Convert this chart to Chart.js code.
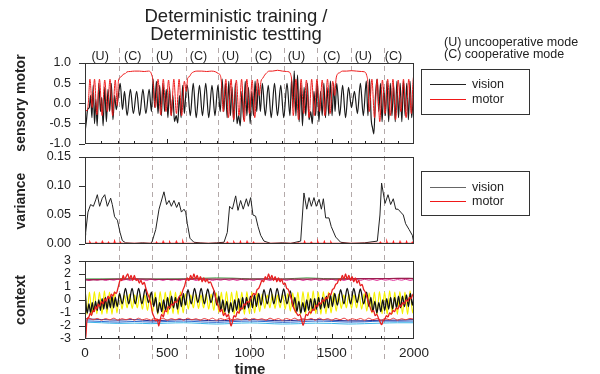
<!DOCTYPE html>
<html><head><meta charset="utf-8">
<script src="https://cdn.jsdelivr.net/npm/chart.js@4.4.0/dist/chart.umd.min.js"></script>
<style>
body{margin:0;background:#fff;width:600px;height:374px;overflow:hidden;position:relative;font-family:"Liberation Sans",Arial,sans-serif;color:#222}
canvas{position:absolute;left:0;z-index:1}
.t{position:absolute;white-space:nowrap;z-index:5}
.rot{position:absolute;white-space:nowrap;transform:translate(-50%,-50%) rotate(-90deg);font-weight:bold;font-size:14px;z-index:5}
.lg{position:absolute;border:1px solid #333;background:#fff;z-index:5}
.ln{position:absolute;height:1px;z-index:6}
.lt{position:absolute;font-size:12.5px;line-height:13px;transform:translateY(-50%);z-index:6}
.ml{position:absolute;font-size:12.5px;transform:translate(-50%,-50%);z-index:5}
</style></head><body>
<div class="t" style="left:126px;top:7px;width:220px;text-align:center;font-size:18.5px;line-height:18px">Deterministic training /<br>Deterministic testting</div>
<div class="t" style="left:444px;top:36px;font-size:12.5px;line-height:12px">(U) uncooperative mode<br>(C) cooperative mode</div>
<div class="rot" style="left:20px;top:103px">sensory motor</div>
<div class="rot" style="left:20px;top:201px">variance</div>
<div class="rot" style="left:20px;top:300px">context</div>
<div class="t" style="left:250px;top:362px;transform:translateX(-50%);font-weight:bold;font-size:15px;line-height:14px">time</div>
<div class="lg" style="left:421px;top:69px;width:107px;height:44px"></div>
<div class="ln" style="left:430px;top:84px;width:36px;background:#222"></div>
<div class="lt" style="left:472px;top:84px">vision</div>
<div class="ln" style="left:430px;top:99px;width:36px;background:#f01818"></div>
<div class="lt" style="left:472px;top:99px">motor</div>
<div class="lg" style="left:421px;top:171px;width:107px;height:43px"></div>
<div class="ln" style="left:430px;top:187px;width:36px;background:#666"></div>
<div class="lt" style="left:472px;top:187px">vision</div>
<div class="ln" style="left:430px;top:201px;width:36px;background:#f01818"></div>
<div class="lt" style="left:472px;top:201px">motor</div>
<div id="modes"></div>
<canvas id="c1" width="600" height="125" style="top:35px"></canvas>
<canvas id="c2" width="600" height="125" style="top:140px"></canvas>
<canvas id="c3" width="600" height="139" style="top:235px"></canvas>
<script>
// ---------- shared ----------
const boundaries = [205, 408, 612, 808, 1010, 1208, 1410, 1614, 1815];
const modeLabels = ['(U)','(C)','(U)','(C)','(U)','(C)','(U)','(C)','(U)','(C)'];
const modeTimes = [92, 290, 484, 690, 884, 1085, 1285, 1500, 1692, 1875];
const xTickLabels = [0, 500, 1000, 1500, 2000];

// ---------- panel 1: sensory motor ----------
const motorSM = [[0,-0.15],[12,-0.18],[20,0.0],[30,0.6],[44,-0.1],[58,0.6],[72,-0.28],[88,0.6],[104,-0.3],[120,0.58],[136,-0.2],[152,0.6],[168,-0.3],[184,0.58],[196,-0.05],[203,0.55],
[208,0.62],[215,0.65],[225,0.68],[232,0.72],[245,0.74],[255,0.78],[275,0.79],[300,0.8],[330,0.8],[360,0.79],[385,0.8],[398,0.78],[406,0.7],
[412,0.6],[428,-0.1],[444,0.6],[460,-0.28],[476,0.6],[492,-0.2],[508,0.58],[524,-0.3],[540,0.6],[556,-0.25],[572,0.6],[588,-0.3],[604,0.55],[616,0.3],
[624,0.62],[634,0.66],[646,0.74],[660,0.78],[680,0.8],[710,0.8],[740,0.79],[770,0.8],[795,0.78],[810,0.74],[822,0.7],[830,0.5],
[840,-0.2],[856,0.6],[872,-0.35],[888,0.6],[904,-0.4],[920,0.58],[936,-0.3],[952,0.6],[968,-0.45],[984,0.6],[1000,-0.25],[1016,0.58],[1032,-0.35],[1048,0.6],[1060,0.2],
[1070,0.55],[1080,0.62],[1092,0.7],[1105,0.76],[1119,0.8],[1140,0.8],[1170,0.82],[1200,0.8],[1225,0.79],[1240,0.78],[1250,0.72],[1257,0.55],
[1266,-0.3],[1282,0.6],[1298,-0.4],[1314,0.6],[1330,-0.25],[1346,0.58],[1362,-0.35],[1378,0.6],[1394,-0.3],[1410,0.6],[1426,-0.2],[1442,0.58],[1458,-0.3],[1474,0.6],[1490,-0.25],[1506,0.55],[1518,0.2],
[1526,0.6],[1534,0.72],[1548,0.76],[1565,0.8],[1590,0.8],[1620,0.81],[1650,0.8],[1680,0.79],[1700,0.78],[1712,0.7],[1720,0.5],
[1728,-0.2],[1744,0.6],[1760,-0.35],[1776,0.6],[1792,-0.45],[1808,0.58],[1824,-0.25],[1840,0.6],[1856,-0.3],[1872,0.6],[1888,-0.4],[1904,0.58],[1920,-0.2],[1936,0.6],[1952,-0.35],[1968,0.6],[1984,-0.25],[1994,0.55],[2000,0.72]];

const visionSM = [[0,-0.7],[8,-0.45],[16,-0.15],[26,-0.1],[34,0.2],[42,-0.35],[50,0.45],[58,-0.5],[66,0.1],[74,-0.55],[84,0.5],[94,-0.2],[102,0.15],[110,-0.55],[120,0.4],[130,-0.45],[140,0.35],[150,-0.2],[160,0.5],[170,-0.4],[180,0.2],[190,-0.15],[200,0.1],[206,0.3],
[214,0.5],[228,-0.15],[240,0.3],[256,-0.3],[276,0.35],[294,-0.25],[314,0.3],[332,-0.3],[352,0.35],[370,-0.25],[390,0.35],[404,-0.2],
[414,0.6],[424,-0.1],[434,0.55],[444,-0.25],[454,0.45],[464,-0.3],[474,0.5],[484,-0.2],[494,0.35],[504,-0.35],[514,0.4],[524,-0.3],[534,0.2],[544,-0.45],[554,-0.3],[564,-0.48],[574,0.2],[584,-0.35],[594,0.45],[604,-0.25],[614,0.3],
[622,0.45],[640,-0.3],[658,0.5],[676,-0.35],[696,0.45],[714,-0.3],[734,0.5],[752,-0.35],[772,0.45],[790,-0.3],[808,0.45],[822,-0.2],
[834,0.6],[844,-0.2],[854,0.5],[864,-0.35],[874,0.55],[884,-0.3],[894,0.4],[904,-0.45],[914,0.5],[924,-0.5],[934,-0.3],[944,-0.55],[954,0.3],[964,-0.4],[974,0.55],[984,-0.3],[994,0.4],[1004,-0.5],[1014,0.3],[1024,-0.3],[1034,0.55],[1044,-0.2],[1054,0.5],[1066,-0.2],
[1078,0.5],[1096,-0.3],[1114,0.45],[1132,-0.35],[1152,0.5],[1170,-0.3],[1190,0.45],[1208,-0.35],[1228,0.5],[1246,-0.3],
[1256,0.6],[1264,-0.1],[1272,0.8],[1282,-0.3],[1292,0.7],[1302,-0.45],[1312,0.5],[1322,-0.55],[1332,0.4],[1342,-0.3],[1352,0.5],[1362,-0.4],[1372,-0.2],[1382,-0.5],[1392,0.3],[1402,-0.3],[1412,0.55],[1422,-0.45],[1432,0.3],[1442,-0.3],[1452,0.5],[1462,-0.35],[1472,0.4],[1482,-0.3],[1492,0.55],[1502,-0.3],[1512,0.5],[1520,-0.2],
[1530,0.5],[1548,-0.3],[1566,0.45],[1584,-0.35],[1602,0.4],[1620,-0.1],[1638,0.3],[1656,-0.25],[1674,0.5],[1692,-0.3],[1710,0.55],
[1720,-0.3],[1730,0.6],[1740,-0.4],[1748,-0.6],[1756,-0.75],[1766,0.2],[1776,0.6],[1786,-0.2],[1796,0.5],[1806,-0.45],[1816,0.4],[1826,-0.3],[1836,0.55],[1846,-0.45],[1856,0.5],[1866,-0.3],[1876,0.45],[1886,-0.45],[1896,0.55],[1906,-0.35],[1916,0.5],[1926,-0.45],[1936,0.55],[1946,-0.3],[1956,0.5],[1966,-0.4],[1976,0.55],[1986,-0.35],[2000,0.6]];

// ---------- panel 2: variance ----------
const visionVar = [[0,0.015],[4,0.02],[18,0.055],[34,0.068],[51,0.065],[65,0.076],[75,0.085],[89,0.065],[105,0.079],[120,0.085],[136,0.065],[156,0.079],[166,0.068],[180,0.047],[197,0.041],[213,0.02],[227,0.006],[247,0.002],[300,0.001],[350,0.002],[400,0.001],
[409,0.005],[430,0.025],[450,0.06],[480,0.09],[496,0.068],[511,0.075],[525,0.065],[541,0.075],[557,0.063],[571,0.072],[586,0.055],[602,0.06],[612,0.055],[622,0.035],[638,0.01],[662,0.003],[700,0.002],[750,0.001],[800,0.002],
[845,0.003],[865,0.02],[879,0.065],[896,0.06],[916,0.083],[930,0.058],[946,0.075],[962,0.06],[981,0.078],[993,0.065],[1007,0.08],[1021,0.05],[1037,0.048],[1052,0.03],[1068,0.015],[1088,0.005],[1129,0.001],[1200,0.002],[1250,0.001],
[1311,0.005],[1331,0.088],[1348,0.06],[1362,0.08],[1376,0.065],[1392,0.08],[1406,0.065],[1423,0.077],[1437,0.06],[1449,0.078],[1463,0.045],[1483,0.045],[1497,0.03],[1524,0.012],[1554,0.003],[1615,0.001],[1700,0.002],
[1777,0.005],[1793,0.05],[1803,0.105],[1824,0.07],[1842,0.085],[1858,0.068],[1874,0.078],[1889,0.06],[1903,0.06],[1919,0.055],[1935,0.05],[1949,0.035],[1970,0.025],[1990,0.015],[2000,0.0]];

const motorVar = [[0,0.001],[26,0.001],[30,0.003],[34,0.001],[63,0.001],[67,0.003],[71,0.001],[101,0.001],[105,0.004],[109,0.001],[139,0.001],[143,0.003],[147,0.001],[176,0.001],[180,0.005],[184,0.001],[211,0.001],[215,0.003],[219,0.001],[300,0.001],[400,0.001],
[431,0.001],[435,0.003],[439,0.001],[471,0.001],[475,0.004],[479,0.001],[511,0.001],[515,0.003],[519,0.001],[551,0.001],[555,0.004],[559,0.001],[591,0.001],[595,0.004],[599,0.001],[700,0.001],[800,0.001],
[861,0.001],[865,0.003],[869,0.001],[901,0.001],[905,0.003],[909,0.001],[941,0.001],[945,0.004],[949,0.001],[981,0.001],[985,0.004],[989,0.001],[1021,0.001],[1025,0.003],[1029,0.001],[1100,0.001],[1200,0.001],
[1291,0.001],[1295,0.002],[1299,0.001],[1331,0.001],[1335,0.004],[1339,0.001],[1371,0.001],[1375,0.003],[1379,0.001],[1411,0.001],[1415,0.004],[1419,0.001],[1451,0.001],[1455,0.004],[1459,0.001],[1491,0.001],[1495,0.003],[1499,0.001],[1600,0.001],[1700,0.001],
[1791,0.001],[1795,0.003],[1799,0.001],[1831,0.001],[1835,0.004],[1839,0.001],[1871,0.001],[1875,0.004],[1879,0.001],[1911,0.001],[1915,0.004],[1919,0.001],[1951,0.001],[1955,0.004],[1959,0.001],[1986,0.001],[1990,0.003],[2000,0.001]];

// ---------- panel 3: context ----------
const ctxRed = [[0,-0.5],[4,-3.0],[10,-1.8],[16,-1.4],[24,-1.3],[32,-1.0],[40,-1.2],[48,-0.8],[56,-0.9],[64,-0.5],[72,-0.7],[80,-0.3],[90,-0.5],[100,-0.1],[110,-0.3],[120,0.1],[130,-0.1],[140,0.3],[150,0.1],[160,0.45],[170,0.3],[180,0.6],[190,0.5],[200,0.9],[208,1.3],[216,1.6],[224,1.5],[232,1.9],[240,1.6],[250,1.8],[260,2.0],[270,1.6],[280,1.9],[290,1.5],[300,1.9],[310,1.5],[320,1.6],[330,1.3],[340,1.5],[350,1.2],[360,1.35],[370,0.9],[380,0.5],[390,0.2],[400,-0.3],[410,-1.0],[420,-1.3],[430,-1.6],[440,-1.5],[448,-2.0],[456,-1.6],[466,-1.1],[476,-1.3],[486,-0.8],[496,-0.9],[506,-0.5],[516,-0.6],[526,-0.3],[536,-0.4],[546,-0.1],[556,-0.2],[566,0.1],[576,0.3],[586,0.4],[596,0.8],[606,1.1],[614,1.5],[622,1.7],[632,1.5],[642,1.9],[652,1.6],[662,2.0],[672,1.6],[682,1.9],[692,1.5],[702,1.8],[712,1.4],[722,1.7],[732,1.4],[742,1.6],[752,1.3],[762,1.4],[772,1.1],[782,0.8],[792,0.3],[802,-0.2],[812,-0.5],[822,-0.9],[832,-0.7],[842,-1.2],[852,-1.0],[862,-1.3],[872,-1.1],[880,-1.6],[888,-2.0],[896,-1.7],[906,-1.2],[916,-1.3],[926,-0.9],[936,-1.0],[946,-0.6],[956,-0.7],[966,-0.3],[976,-0.4],[986,-0.1],[996,-0.2],[1006,0.1],[1016,0.3],[1026,0.5],[1036,0.4],[1046,0.8],[1056,0.9],[1066,1.2],[1076,1.5],[1086,1.4],[1096,1.8],[1106,1.6],[1116,2.0],[1126,1.6],[1136,1.9],[1146,1.5],[1156,1.8],[1166,1.4],[1176,1.7],[1186,1.4],[1196,1.6],[1206,1.2],[1216,1.3],[1226,0.9],[1236,0.8],[1246,0.4],[1256,0.0],[1266,-0.5],[1276,-0.8],[1286,-1.0],[1296,-1.2],[1306,-1.1],[1316,-1.5],[1326,-1.95],[1334,-1.6],[1344,-1.1],[1354,-1.2],[1364,-0.9],[1374,-1.0],[1384,-0.7],[1394,-0.8],[1404,-0.4],[1414,-0.5],[1424,-0.2],[1434,-0.3],[1444,0.0],[1454,-0.1],[1464,0.2],[1474,0.1],[1484,0.5],[1494,0.4],[1504,0.8],[1514,0.9],[1524,1.2],[1534,1.3],[1544,1.6],[1554,1.5],[1564,1.9],[1574,1.6],[1584,2.0],[1594,1.6],[1604,1.9],[1614,1.5],[1624,1.8],[1634,1.4],[1644,1.7],[1654,1.3],[1664,1.5],[1674,1.1],[1684,1.2],[1694,0.8],[1704,0.6],[1714,0.2],[1724,-0.2],[1734,-0.6],[1744,-0.9],[1754,-0.8],[1764,-1.2],[1774,-1.1],[1784,-1.4],[1794,-1.7],[1804,-1.9],[1812,-1.6],[1822,-1.5],[1832,-1.2],[1842,-1.3],[1852,-1.0],[1862,-1.1],[1872,-0.8],[1882,-0.9],[1892,-0.6],[1902,-0.7],[1912,-0.4],[1922,-0.5],[1932,-0.2],[1942,-0.3],[1952,0.0],[1962,-0.1],[1972,0.2],[1982,0.1],[1992,0.4],[2000,0.5]];

const ctxBlack = [[0,1.0],[8,-0.6],[14,-1.0],[24,-0.3],[34,-1.0],[44,-0.2],[54,-0.9],[64,-0.1],[74,-0.8],[84,0.0],[94,-0.8],[104,0.1],[114,-0.7],[124,0.2],[134,-0.7],[144,0.1],[154,-0.6],[164,0.3],[174,-0.6],[184,0.2],[196,-0.5],[210,0.5],[226,-0.3],[246,0.9],[266,-0.3],[286,0.9],[306,-0.3],[326,0.9],[346,-0.3],[366,0.85],[386,-0.2],[404,0.6],[418,-0.5],[430,0.2],[442,-1.0],[454,-0.2],[466,-0.9],[478,0.0],[490,-0.8],[502,0.2],[514,-0.7],[526,0.3],[538,-0.6],[550,0.2],[562,-0.7],[574,0.3],[586,-0.5],[598,0.5],[610,-0.4],[626,0.8],[646,-0.3],[666,0.9],[686,-0.2],[706,0.9],[726,-0.3],[746,0.85],[766,-0.2],[786,0.7],[802,-0.4],[814,0.3],[826,-0.8],[838,0.0],[850,-0.9],[862,-0.1],[874,-1.0],[886,-0.2],[898,-0.9],[910,0.0],[922,-0.8],[934,0.1],[946,-0.8],[958,0.2],[970,-0.7],[982,0.2],[994,-0.6],[1006,0.3],[1018,-0.6],[1030,0.4],[1042,-0.5],[1056,0.5],[1070,-0.4],[1088,0.8],[1108,-0.3],[1128,0.9],[1148,-0.3],[1168,0.9],[1188,-0.2],[1208,0.85],[1228,-0.3],[1248,0.7],[1264,-0.5],[1276,0.2],[1288,-0.9],[1300,-0.1],[1312,-1.0],[1324,-0.2],[1336,-0.9],[1348,0.0],[1360,-0.8],[1372,0.1],[1384,-0.8],[1396,0.1],[1408,-0.7],[1420,0.2],[1432,-0.7],[1444,0.2],[1456,-0.6],[1468,0.3],[1480,-0.6],[1492,0.4],[1504,-0.5],[1518,0.5],[1534,-0.4],[1554,0.8],[1574,-0.3],[1594,0.9],[1614,-0.3],[1634,0.9],[1654,-0.2],[1674,0.85],[1694,-0.3],[1712,0.6],[1726,-0.5],[1738,0.2],[1750,-0.9],[1762,-0.1],[1774,-1.0],[1786,-0.2],[1798,-0.9],[1810,0.0],[1822,-0.8],[1834,0.1],[1846,-0.7],[1858,0.2],[1870,-0.7],[1882,0.2],[1894,-0.6],[1906,0.3],[1918,-0.6],[1930,0.3],[1942,-0.5],[1954,0.4],[1966,-0.5],[1978,0.5],[1990,-0.4],[2000,0.4]];

const ctxYellow = [[0,1.0],[12,-1.1],[27,0.6],[42,-1.1],[57,0.65],[72,-1.05],[88,0.6],[103,-1.1],[118,0.7],[133,-1.05],[149,0.6],[164,-1.1],[179,0.65],[194,-1.0],[210,0.5],[225,-0.7],[240,0.4],[256,-0.6],[271,0.45],[287,-0.65],[302,0.4],[318,-0.6],[333,0.45],[349,-0.7],[364,0.4],[380,-0.8],[395,0.5],[411,-0.95],[426,0.6],[442,-1.1],[457,0.65],[473,-1.05],[488,0.6],[504,-1.1],[519,0.7],[535,-1.05],[550,0.6],[566,-1.1],[581,0.65],[597,-1.0],[612,0.5],[628,-0.7],[643,0.4],[659,-0.6],[674,0.45],[690,-0.65],[705,0.4],[721,-0.6],[736,0.45],[752,-0.7],[767,0.45],[783,-0.8],[798,0.55],[814,-0.95],[829,0.6],[845,-1.1],[860,0.65],[876,-1.05],[891,0.6],[907,-1.1],[922,0.7],[938,-1.05],[953,0.6],[969,-1.1],[984,0.65],[1000,-1.05],[1015,0.6],[1031,-1.0],[1046,0.55],[1062,-0.9],[1077,0.45],[1093,-0.65],[1108,0.4],[1124,-0.6],[1139,0.45],[1155,-0.65],[1170,0.4],[1186,-0.6],[1201,0.45],[1217,-0.7],[1232,0.5],[1248,-0.85],[1263,0.55],[1279,-1.0],[1294,0.6],[1310,-1.1],[1325,0.65],[1341,-1.05],[1356,0.6],[1372,-1.1],[1387,0.7],[1403,-1.05],[1418,0.6],[1434,-1.1],[1449,0.65],[1465,-1.05],[1480,0.6],[1496,-1.0],[1511,0.55],[1527,-0.85],[1542,0.45],[1558,-0.65],[1573,0.4],[1589,-0.6],[1604,0.45],[1620,-0.65],[1635,0.4],[1651,-0.6],[1666,0.45],[1682,-0.7],[1697,0.5],[1713,-0.85],[1728,0.55],[1744,-1.0],[1759,0.6],[1775,-1.1],[1790,0.65],[1806,-1.05],[1821,0.6],[1837,-1.1],[1852,0.7],[1868,-1.05],[1883,0.6],[1899,-1.1],[1914,0.65],[1930,-1.05],[1945,0.6],[1961,-1.1],[1976,0.7],[1992,-1.0],[2000,-0.4]];

const ctxMaroon = [[0,1.55],[100,1.57],[200,1.6],[300,1.62],[400,1.6],[500,1.58],[600,1.6],[700,1.62],[800,1.6],[900,1.62],[1000,1.6],[1100,1.62],[1200,1.6],[1300,1.6],[1400,1.62],[1500,1.6],[1600,1.62],[1700,1.65],[1800,1.64],[1900,1.66],[2000,1.65]];
const ctxGreen = [[0,1.62],[200,1.63],[400,1.62],[600,1.63],[800,1.7],[900,1.68],[1000,1.63],[1200,1.62],[1350,1.7],[1450,1.65],[1600,1.63],[1800,1.65],[2000,1.66]];
const ctxNavy = [[0,-1.45],[100,-1.5],[200,-1.55],[300,-1.5],[400,-1.6],[500,-1.55],[600,-1.5],[700,-1.55],[800,-1.6],[900,-1.55],[1000,-1.5],[1100,-1.55],[1200,-1.6],[1300,-1.55],[1400,-1.5],[1500,-1.55],[1600,-1.6],[1700,-1.6],[1800,-1.55],[1900,-1.55],[2000,-1.5]];
const ctxBlue = [[0,-1.6],[100,-1.65],[200,-1.7],[300,-1.65],[400,-1.7],[500,-1.65],[600,-1.62],[700,-1.68],[800,-1.72],[900,-1.66],[1000,-1.62],[1100,-1.66],[1200,-1.72],[1300,-1.68],[1400,-1.62],[1500,-1.65],[1600,-1.7],[1700,-1.68],[1800,-1.62],[1900,-1.63],[2000,-1.62]];
const ctxCyan = [[0,-1.7],[100,-1.75],[200,-1.8],[300,-1.78],[400,-1.82],[500,-1.78],[600,-1.75],[700,-1.8],[800,-1.85],[900,-1.8],[1000,-1.76],[1100,-1.8],[1200,-1.85],[1300,-1.82],[1400,-1.78],[1500,-1.8],[1600,-1.85],[1700,-1.82],[1800,-1.78],[1900,-1.75],[2000,-1.75]];

const grid25 = [0,25,50,75,100,125,150,175,200,225,250,275,300,325,350,375,400,425,450,475,500,525,550,575,600,625,650,675,700,725,750,775,800,825,850,875,900,925,950,975,1000,1025,1050,1075,1100,1125,1150,1175,1200,1225,1250,1275,1300,1325,1350,1375,1400,1425,1450,1475,1500,1525,1550,1575,1600,1625,1650,1675,1700,1725,1750,1775,1800,1825,1850,1875,1900,1925,1950,1975,2000];
const ctxPink = [1.60,1.50,1.58,1.52,1.60,1.50,1.57,1.52,1.60,1.51,1.58,1.50,1.60,1.52,1.57,1.50,1.60,1.52,1.58,1.50,1.60,1.52,1.57,1.50,1.58,1.52,1.60,1.50,1.58,1.52,1.60,1.50,1.57,1.52,1.60,1.51,1.58,1.50,1.60,1.52,1.57,1.50,1.60,1.52,1.58,1.50,1.60,1.52,1.57,1.50,1.58,1.52,1.60,1.50,1.58,1.52,1.60,1.50,1.57,1.52,1.60,1.51,1.58,1.50,1.60,1.52,1.57,1.50,1.60,1.52,1.58,1.50,1.60,1.52,1.57,1.50,1.58,1.52,1.60,1.50,1.58];
const ctxBotRed = [-1.45,-1.40,-1.52,-1.42,-1.55,-1.43,-1.52,-1.40,-1.55,-1.44,-1.52,-1.42,-1.55,-1.40,-1.52,-1.44,-1.55,-1.42,-1.52,-1.40,-1.55,-1.43,-1.52,-1.42,-1.55,-1.40,-1.52,-1.44,-1.55,-1.42,-1.52,-1.40,-1.55,-1.43,-1.52,-1.42,-1.55,-1.44,-1.52,-1.40,-1.55,-1.42,-1.52,-1.44,-1.55,-1.40,-1.52,-1.43,-1.55,-1.42,-1.52,-1.40,-1.55,-1.44,-1.52,-1.42,-1.55,-1.40,-1.52,-1.43,-1.55,-1.42,-1.52,-1.40,-1.55,-1.44,-1.52,-1.42,-1.55,-1.40,-1.52,-1.43,-1.55,-1.42,-1.52,-1.40,-1.55,-1.44,-1.52,-1.42,-1.48];

// ---------- helpers ----------
const FONT = '"Liberation Sans", Arial, sans-serif';
const pts = a => a.map(p => ({x:p[0], y:p[1]}));
const zip = (ts, vs) => vs.slice(0, ts.length).map((v,i) => ({x:ts[i], y:v}));
function ds(data, color, w, extra){ return Object.assign({data, borderColor:color, borderWidth:w, pointRadius:0, fill:false, cubicInterpolationMode:'monotone'}, extra||{}); }

function plugins(canvasTop, bandTop, bandBot, withTicks){
  return [{
    id:'decor',
    beforeDatasetsDraw(chart){
      const ctx = chart.ctx, xs = chart.scales.x;
      ctx.save();
      ctx.strokeStyle = '#b3a9a9'; ctx.lineWidth = 1;
      ctx.setLineDash([5,4]); ctx.lineDashOffset = bandTop - 48;
      boundaries.forEach(t => {
        const px = Math.round(xs.getPixelForValue(t)) + 0.5;
        ctx.beginPath(); ctx.moveTo(px, bandTop - canvasTop); ctx.lineTo(px, bandBot - canvasTop); ctx.stroke();
      });
      ctx.restore();
    },
    afterDraw(chart){
      const ctx = chart.ctx, a = chart.chartArea, xs = chart.scales.x;
      ctx.save();
      ctx.strokeStyle = '#333'; ctx.lineWidth = 1;
      ctx.strokeRect(Math.round(a.left)+0.5, Math.round(a.top)+0.5, Math.round(a.right-a.left)-1, Math.round(a.bottom-a.top)-1);
      if (withTicks) {
        ctx.strokeStyle = '#222';
        for (let t = 100; t < 2000; t += 100) {
          const px = Math.round(xs.getPixelForValue(t)) + 0.5;
          const len = (t % 500 === 0) ? 5 : 3;
          ctx.beginPath(); ctx.moveTo(px, a.bottom); ctx.lineTo(px, a.bottom - len); ctx.stroke();
        }
      }
      ctx.restore();
    }
  }];
}

function yAxis(min, max, step, dec){
  return { min, max,
    ticks:{ stepSize:step, autoSkip:false, callback:v => Number(v).toFixed(dec), font:{size:12.5, family:FONT}, color:'#222', padding:8 },
    grid:{ drawOnChartArea:false, drawTicks:true, tickLength:6, color:'#333' },
    border:{ display:false },
    afterFit:s => { s.width = 85; } };
}

function baseOpts(pad, yax, xDisplay){
  return {
    responsive:false, animation:false, devicePixelRatio:1, events:[],
    layout:{ padding:pad },
    plugins:{ legend:{display:false}, tooltip:{enabled:false} },
    scales:{
      x: xDisplay ? { type:'linear', min:0, max:2000,
            afterBuildTicks:s => { s.ticks = xTickLabels.map(v => ({value:v})); },
            ticks:{ autoSkip:false, maxRotation:0, callback:v => String(v), font:{size:13.5, family:FONT}, color:'#222', padding:6 },
            grid:{ display:false, drawTicks:false }, border:{display:false},
            afterFit:s => { s.height = 35; } }
        : { type:'linear', min:0, max:2000, display:false },
      y: yax
    }
  };
}

const c1 = new Chart(document.getElementById('c1'), {
  type:'line',
  data:{ datasets:[ ds(pts(motorSM), '#ee1c1c', 1), ds(pts(visionSM), '#1a1a1a', 1.2) ] },
  options: baseOpts({left:0, right:186, top:28, bottom:16}, yAxis(-1, 1, 0.5, 1), false),
  plugins: plugins(35, 48, 150.5, true)
});

new Chart(document.getElementById('c2'), {
  type:'line',
  data:{ datasets:[ ds(pts(motorVar), '#ff2020', 1.3, {cubicInterpolationMode:'default', tension:0}), ds(pts(visionVar), '#222', 1, {cubicInterpolationMode:'default', tension:0}) ] },
  options: baseOpts({left:0, right:186, top:17, bottom:21}, yAxis(0, 0.15, 0.05, 2), false),
  plugins: plugins(140, 150.5, 252.5, false)
});

new Chart(document.getElementById('c3'), {
  type:'line',
  data:{ datasets:[
    ds(pts(ctxRed), '#e82020', 1.3),
    ds(pts(ctxBlack), '#111', 1.3),
    ds(pts(ctxYellow), '#f5f000', 1.2),
    ds(pts(ctxMaroon), '#9c1f4f', 1.3),
    ds(zip(grid25, ctxPink), '#e23aa0', 1),
    ds(pts(ctxGreen), '#3aa040', 1),
    ds(zip(grid25, ctxBotRed), '#e8383a', 1),
    ds(pts(ctxNavy), '#2b2a8c', 1),
    ds(pts(ctxBlue), '#2e6ad0', 1),
    ds(pts(ctxCyan), '#3ab4e8', 1)
  ] },
  options: baseOpts({left:0, right:186, top:26, bottom:0}, yAxis(-3, 3, 1, 0), true),
  plugins: plugins(235, 252.5, 360, true)
});

// mode labels positioned through the x scale of panel 1
const modesDiv = document.getElementById('modes');
modeTimes.forEach((t, i) => {
  const d = document.createElement('div');
  d.className = 'ml';
  d.style.left = c1.scales.x.getPixelForValue(t) + 'px';
  d.style.top = '56px';
  d.textContent = modeLabels[i];
  modesDiv.appendChild(d);
});
</script>
</body></html>
